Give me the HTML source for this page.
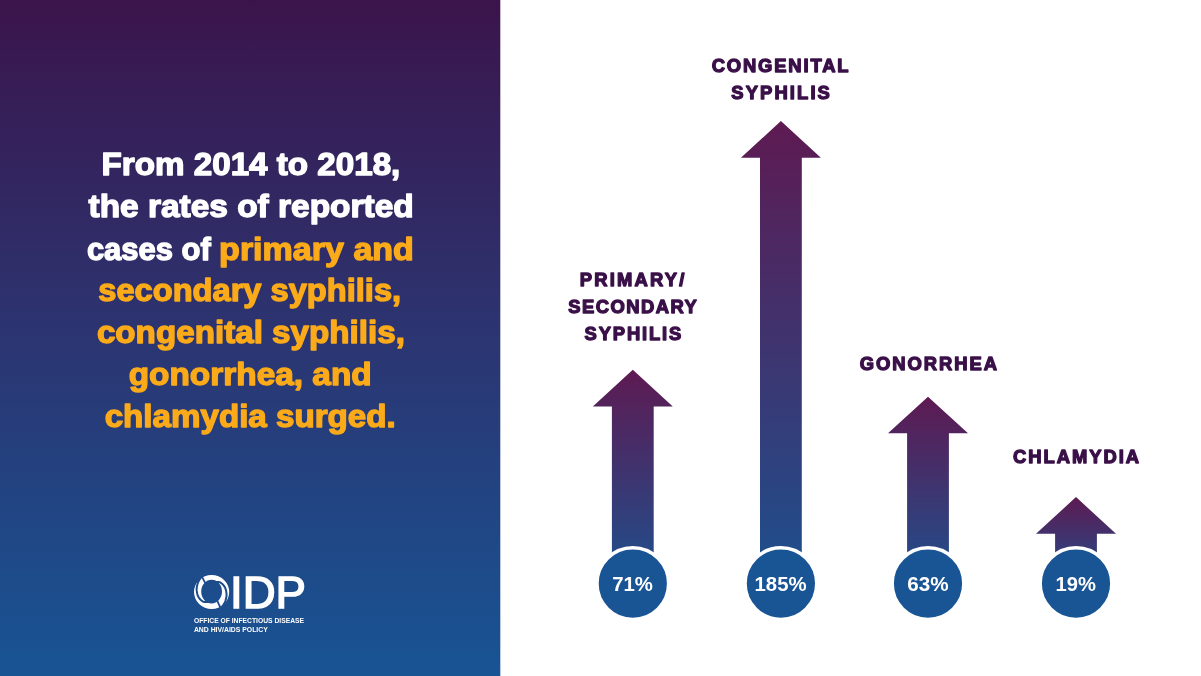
<!DOCTYPE html>
<html lang="en">
<head>
<meta charset="utf-8">
<title>STD rates surged 2014 to 2018</title>
<style>
html,body{margin:0;padding:0;background:#fff;}
body{width:1201px;height:676px;overflow:hidden;font-family:"Liberation Sans",sans-serif;}
svg{display:block}
text{font-family:"Liberation Sans",sans-serif;font-weight:bold}
.h text{font-size:32px;fill:#fff;stroke:#fff;stroke-width:1.4px;stroke-linejoin:round}
.h .o{fill:#fbaa19;stroke:#fbaa19}
.lab text{font-size:18.4px;fill:#3a1048;stroke:#3a1048;stroke-width:1.3px;stroke-linejoin:round}
.pct{font-size:19.4px;fill:#fff}
.sm{font-size:6.8px;fill:#fff}
</style>
</head>
<body>
<svg width="1201" height="676" viewBox="0 0 1201 676">
<defs>
<linearGradient id="bg" x1="0" y1="0" x2="0" y2="1">
<stop offset="0" stop-color="#3b144b"/>
<stop offset="0.45" stop-color="#2d326e"/>
<stop offset="1" stop-color="#185494"/>
</linearGradient>
<linearGradient id="ar" x1="0" y1="0" x2="0" y2="1">
<stop offset="0" stop-color="#5e1a52"/>
<stop offset="1" stop-color="#1d508e"/>
</linearGradient>
</defs>
<rect x="0" y="0" width="1201" height="676" fill="#fff"/>
<rect x="0" y="0" width="500.3" height="676" fill="url(#bg)"/>

<!-- headline -->
<g class="h">
<text x="101.6" y="175" textLength="298.7" lengthAdjust="spacingAndGlyphs">From 2014 to 2018,</text>
<text x="88.5" y="217" textLength="325.2" lengthAdjust="spacingAndGlyphs">the rates of reported</text>
<text x="86.9" y="260" textLength="123.8" lengthAdjust="spacingAndGlyphs">cases of</text>
<text class="o" x="219.1" y="260" textLength="194.8" lengthAdjust="spacingAndGlyphs">primary and</text>
<text class="o" x="98.3" y="301" textLength="302.8" lengthAdjust="spacingAndGlyphs">secondary syphilis,</text>
<text class="o" x="96.9" y="343" textLength="308.0" lengthAdjust="spacingAndGlyphs">congenital syphilis,</text>
<text class="o" x="128.7" y="385" textLength="243.0" lengthAdjust="spacingAndGlyphs">gonorrhea, and</text>
<text class="o" x="104.7" y="427" textLength="291.0" lengthAdjust="spacingAndGlyphs">chlamydia surged.</text>
</g>

<!-- logo -->
<g id="logo">
<mask id="swirl" maskUnits="userSpaceOnUse" x="180" y="560" width="70" height="70">
<rect x="180" y="560" width="70" height="70" fill="#fff"/>
<line x1="216.58" y1="599.38" x2="220.86" y2="608.71" stroke="#000" stroke-width="1.8"/>
<path d="M213.27,582.55 L213.70,582.39 L214.15,582.26 L214.61,582.15 L215.09,582.06 L215.58,581.99 L216.07,581.95 L216.63,581.90 L217.21,581.88 L217.79,581.90 L218.38,581.94 L218.99,582.02 L219.59,582.13 L220.45,582.62 L221.28,583.18 L222.08,583.81 L222.84,584.52 L223.54,585.29 L224.20,586.13 L224.72,587.01 L225.17,587.94 L225.56,588.90 L225.88,589.91 L226.13,590.94 L226.30,592.00 L226.46,593.08 L226.54,594.19 L226.54,595.31 L226.45,596.45 L226.27,597.58 L226.01,598.72 L225.73,599.89 L225.36,601.05 L224.89,602.20 L224.32,603.32 L223.67,604.42 L222.91,605.48 L222.62,605.94 L222.31,606.38 L221.98,606.83 L221.64,607.26 L221.28,607.69 L220.90,608.11" fill="none" stroke="#000" stroke-width="2" stroke-linejoin="round"/>
<line x1="206.24" y1="584.89" x2="201.48" y2="575.80" stroke="#000" stroke-width="1.8"/>
<path d="M209.93,601.45 L209.50,601.61 L209.05,601.74 L208.59,601.85 L208.11,601.94 L207.62,602.01 L207.13,602.05 L206.57,602.10 L205.99,602.12 L205.41,602.10 L204.82,602.06 L204.21,601.98 L203.61,601.87 L202.75,601.38 L201.92,600.82 L201.12,600.19 L200.36,599.48 L199.66,598.71 L199.00,597.87 L198.48,596.99 L198.03,596.06 L197.64,595.10 L197.32,594.09 L197.07,593.06 L196.90,592.00 L196.74,590.92 L196.66,589.81 L196.66,588.69 L196.75,587.55 L196.93,586.42 L197.19,585.28 L197.47,584.11 L197.84,582.95 L198.31,581.80 L198.88,580.68 L199.53,579.58 L200.29,578.52 L200.58,578.06 L200.89,577.62 L201.22,577.17 L201.56,576.74 L201.92,576.31 L202.30,575.89" fill="none" stroke="#000" stroke-width="2" stroke-linejoin="round"/>
</mask>
<path fill="#fff" fill-rule="evenodd" mask="url(#swirl)" d="M194.00,592.0 a17.6,17.1 0 1 0 35.20,0 a17.6,17.1 0 1 0 -35.20,0 Z M201.20,591.6 a10.4,11.8 0 1 0 20.80,0 a10.4,11.8 0 1 0 -20.80,0 Z"/>
<text x="230.0" y="607.9" style="font-size:45.2px;font-weight:normal;fill:#fff;stroke:#fff;stroke-width:1.5px" textLength="76" lengthAdjust="spacingAndGlyphs">IDP</text>
<text class="sm" x="193.9" y="622.5" textLength="110.2" lengthAdjust="spacingAndGlyphs">OFFICE OF INFECTIOUS DISEASE</text>
<text class="sm" x="193.9" y="631.5" textLength="73.9" lengthAdjust="spacingAndGlyphs">AND HIV/AIDS POLICY</text>
</g>

<!-- arrows -->
<polygon points="632.8,369.8 672.8,406.4 653.7,406.4 653.7,584.0 611.9,584.0 611.9,406.4 592.8,406.4" fill="url(#ar)"/>
<circle cx="632.8" cy="583.6" r="35.85" fill="#195595" stroke="#fff" stroke-width="3.5"/>
<text class="pct" x="612.2" y="590.5" textLength="40.7" lengthAdjust="spacingAndGlyphs">71%</text>
<polygon points="780.9,121.1 820.9,157.7 801.8,157.7 801.8,584.0 760.0,584.0 760.0,157.7 740.9,157.7" fill="url(#ar)"/>
<circle cx="780.9" cy="583.6" r="35.85" fill="#195595" stroke="#fff" stroke-width="3.5"/>
<text class="pct" x="754.5" y="590.5" textLength="52.1" lengthAdjust="spacingAndGlyphs">185%</text>
<polygon points="928.0,396.7 968.0,433.3 948.9,433.3 948.9,584.0 907.1,584.0 907.1,433.3 888.0,433.3" fill="url(#ar)"/>
<circle cx="928.0" cy="583.6" r="35.85" fill="#195595" stroke="#fff" stroke-width="3.5"/>
<text class="pct" x="907.2" y="590.5" textLength="41.3" lengthAdjust="spacingAndGlyphs">63%</text>
<polygon points="1076.0,497.1 1116.0,533.7 1096.9,533.7 1096.9,584.0 1055.1,584.0 1055.1,533.7 1036.0,533.7" fill="url(#ar)"/>
<circle cx="1076.0" cy="583.6" r="35.85" fill="#195595" stroke="#fff" stroke-width="3.5"/>
<text class="pct" x="1055.5" y="590.5" textLength="40.4" lengthAdjust="spacingAndGlyphs">19%</text>

<!-- labels -->
<g class="lab">
<text transform="translate(579.8 286.1) scale(1.0 1)" textLength="104.6" lengthAdjust="spacing">PRIMARY/</text>
<text transform="translate(568.2 313.0) scale(1.0 1)" textLength="128.6" lengthAdjust="spacing">SECONDARY</text>
<text transform="translate(584.5 340.0) scale(1.0 1)" textLength="96.8" lengthAdjust="spacing">SYPHILIS</text>
<text transform="translate(711.7 72.2) scale(1.0 1)" textLength="136.8" lengthAdjust="spacing">CONGENITAL</text>
<text transform="translate(731.3 99.2) scale(1.0 1)" textLength="98.6" lengthAdjust="spacing">SYPHILIS</text>
<text transform="translate(859.7 370.0) scale(1.0 1)" textLength="137.3" lengthAdjust="spacing">GONORRHEA</text>
<text transform="translate(1013.0 463.3) scale(1.0 1)" textLength="126.0" lengthAdjust="spacing">CHLAMYDIA</text>
</g>
</svg>
</body>
</html>
